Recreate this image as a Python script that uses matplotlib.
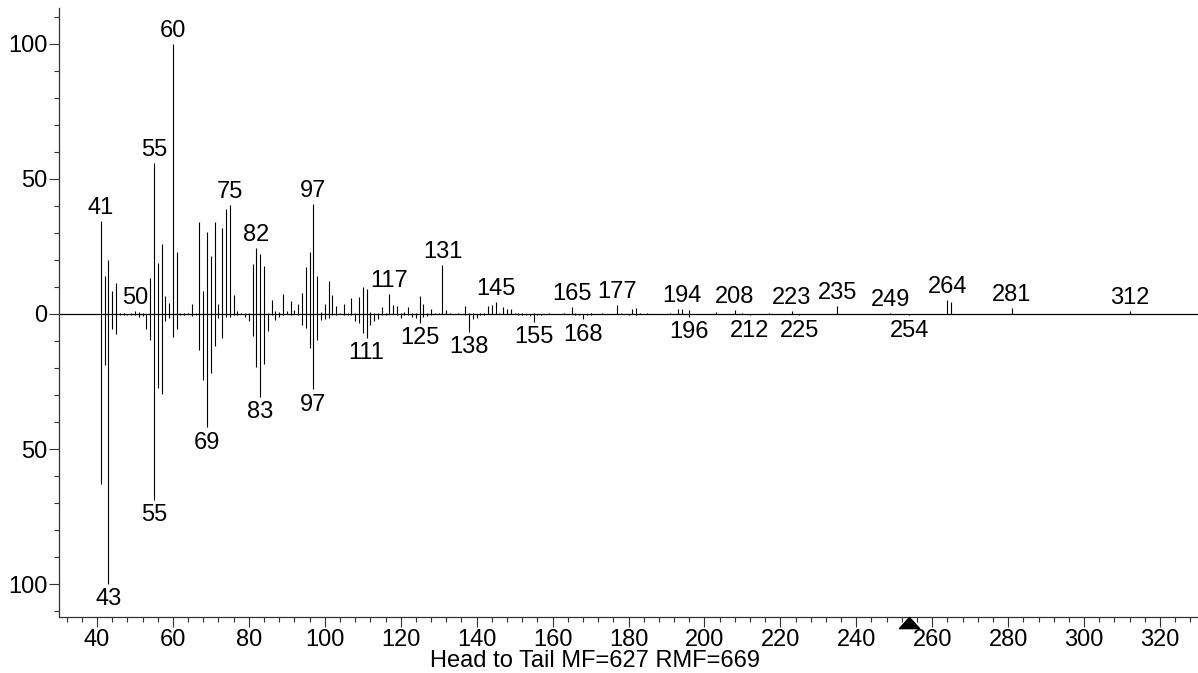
import matplotlib
matplotlib.use("Agg")
import matplotlib.pyplot as plt
from matplotlib.path import Path
from matplotlib.ticker import MultipleLocator, FuncFormatter

plt.rcParams['font.family'] = ['Liberation Sans', 'DejaVu Sans']

# ---- Head (library / top) spectrum ----
head_mz = [41, 42, 43, 44, 45, 46, 47, 49, 50, 51, 52, 54, 55, 56, 57, 58, 59, 60, 61, 62,
           63, 64, 65, 66, 67, 68, 69, 70, 71, 72, 73, 74, 75, 76, 77, 78, 79, 80, 81, 82,
           83, 84, 85, 86, 87, 88, 89, 90, 91, 92, 93, 94, 95, 96, 97, 98, 99, 100, 101, 102,
           103, 104, 105, 106, 107, 108, 109, 110, 111, 112, 113, 114, 115, 116, 117, 118, 119, 120, 121, 122,
           123, 124, 125, 126, 127, 128, 129, 130, 131, 132, 133, 135, 137, 138, 139, 141, 142, 143, 144, 145,
           146, 147, 148, 149, 150, 151, 152, 155, 159, 163, 165, 166, 170, 173, 177, 178, 181, 182, 183, 185,
           191, 193, 194, 196, 203, 208, 210, 217, 223, 235, 249, 264, 265, 281, 312]
head_int = [34.5, 14, 20, 8.6, 11.3, 0.3, 0.3, 0.5, 1.2, 0.8, 0.5, 13.4, 56, 18.8, 26, 6.6, 4, 100, 22.8, 0.5,
            0.3, 0.3, 3.8, 0.4, 34, 8.6, 30.2, 21.6, 34, 3.8, 32, 39, 40.5, 7, 1, 0.5, 0.3, 0.3, 18.5, 24.3,
            22.2, 17.7, 0.5, 5.3, 1, 0.8, 7.3, 1, 4.8, 1.5, 3.6, 7.6, 17.4, 23, 40.8, 13.9, 0.8, 3.8, 12.3, 7.2,
            2.9, 0.5, 3.7, 0.5, 6.1, 0.5, 6.2, 10, 9.1, 0.8, 0.5, 0.3, 2.5, 0.5, 7.4, 3.4, 2.9, 0.5, 0.8, 2.7,
            0.5, 0.5, 6.6, 3.7, 0.5, 2, 0.5, 0.3, 18, 1.3, 0.3, 0.3, 2.9, 0.3, 0.3, 0.3, 0.5, 2.8, 3.2, 4.4,
            0.4, 2.6, 1.8, 1.8, 0.3, 0.3, 0.3, 0.5, 0.3, 0.3, 2.6, 0.4, 0.3, 0.3, 3.2, 0.5, 1.8, 2.2, 0.3, 0.3,
            0.3, 1.7, 2, 1.4, 0.8, 1.6, 0.3, 0.5, 1, 3, 0.4, 5, 4.5, 2.3, 1]
head_labels = [41, 50, 55, 60, 75, 82, 97, 117, 131, 145, 165, 177, 194, 208, 223, 235, 249, 264, 281, 312]

# ---- Tail (unknown / bottom) spectrum ----
tail_mz = [41, 42, 43, 44, 45, 46, 47, 48, 49, 50, 51, 52, 53, 54, 55, 56, 57, 58, 59, 60,
           61, 62, 63, 65, 66, 67, 68, 69, 70, 71, 72, 73, 74, 75, 76, 77, 79, 80, 81, 82,
           83, 84, 85, 86, 87, 88, 89, 91, 93, 94, 95, 96, 97, 98, 99, 100, 101, 102, 103, 105,
           106, 107, 108, 109, 110, 111, 112, 113, 114, 115, 116, 119, 120, 121, 122, 123, 124, 125, 126, 127,
           128, 137, 138, 139, 140, 141, 142, 151, 152, 153, 154, 155, 156, 157, 166, 167, 168, 169, 170, 180,
           182, 196, 212, 225, 254]
tail_int = [62.8, 19, 100, 5.4, 7.5, 0.5, 0.5, 0.3, 0.5, 0.5, 1, 0.8, 5.4, 9.8, 69, 27.3, 29.6, 2.5, 1.5, 8.6,
            5.7, 0.5, 0.5, 0.6, 0.3, 13.3, 24.3, 42, 21.8, 11.8, 1.5, 8.9, 1, 1.2, 0.5, 0.5, 1.2, 2.5, 8.2, 19.5,
            30.7, 18.7, 6.4, 0.5, 2.3, 1.1, 0.3, 0.5, 0.5, 4, 5.2, 12.5, 27.9, 9.5, 2.3, 1.7, 1.6, 0.5, 0.3, 0.5,
            0.5, 0.5, 2.6, 3.4, 7.1, 8.8, 4.1, 2.5, 2, 0.5, 0.3, 0.5, 1.6, 0.5, 0.3, 1.3, 1.6, 3.4, 1.3, 0.7,
            0.3, 0.3, 6.6, 2, 1.5, 0.5, 0.3, 0.3, 0.5, 0.5, 0.8, 3, 0.5, 0.3, 0.5, 0.5, 2, 0.5, 0.3, 0.3,
            0.3, 1.1, 0.5, 0.5, 0.5]
tail_labels = [43, 55, 69, 83, 97, 111, 125, 138, 155, 168, 196, 212, 225, 254]

mw_marker = 254
caption = "Head to Tail MF=627 RMF=669"

FS = 17
fig = plt.figure(figsize=(11.98, 6.73), dpi=100)
ax = fig.add_axes([59 / 1198, 56 / 673, 1 - 59 / 1198, (617 - 8) / 673])

ax.vlines(head_mz, 0, head_int, color='black', lw=0.8)
ax.vlines(tail_mz, [-v for v in tail_int], 0, color='black', lw=0.8)
ax.axhline(0, color='black', lw=0.9)

hmap = dict(zip(head_mz, head_int))
tmap = dict(zip(tail_mz, tail_int))
for m in head_labels:
    ax.annotate(str(m), (m, hmap[m]), xytext=(0, 1.5), textcoords='offset points',
                ha='center', va='bottom', fontsize=FS, annotation_clip=False)
for m in tail_labels:
    ax.annotate(str(m), (m, -tmap[m]), xytext=(0, -3), textcoords='offset points',
                ha='center', va='top', fontsize=FS, annotation_clip=False)

ax.set_xlim(30, 330)
ax.set_ylim(-112.2, 113.3)
ax.xaxis.set_minor_locator(MultipleLocator(4))
ax.yaxis.set_major_locator(MultipleLocator(50))
ax.yaxis.set_minor_locator(MultipleLocator(10))
ax.yaxis.set_major_formatter(FuncFormatter(lambda v, p: f"{abs(int(round(v)))}"))
ax.set_xticks([t for t in range(40, 321, 20)])
ax.tick_params(axis='both', which='major', direction='out', length=7, width=0.8,
               labelsize=FS, color='#333333', pad=1.5)
ax.tick_params(axis='both', which='minor', direction='out', length=3.5, width=0.8, color='#333333')
for s in ['top', 'right']:
    ax.spines[s].set_visible(False)
for s in ['left', 'bottom']:
    ax.spines[s].set_linewidth(0.9)
    ax.spines[s].set_color('#333333')

tri_marker = Path([(0, 0), (-0.91, -1.0), (0.91, -1.0), (0, 0)],
                  [Path.MOVETO, Path.LINETO, Path.LINETO, Path.CLOSEPOLY])
ax.plot([mw_marker], [ax.get_ylim()[0]], marker=tri_marker, markersize=16,
        color='black', clip_on=False, zorder=5)

fig.text(0.497, 0.018, caption, ha='center', va='center', fontsize=FS)

fig.savefig('out.png', dpi=100)
